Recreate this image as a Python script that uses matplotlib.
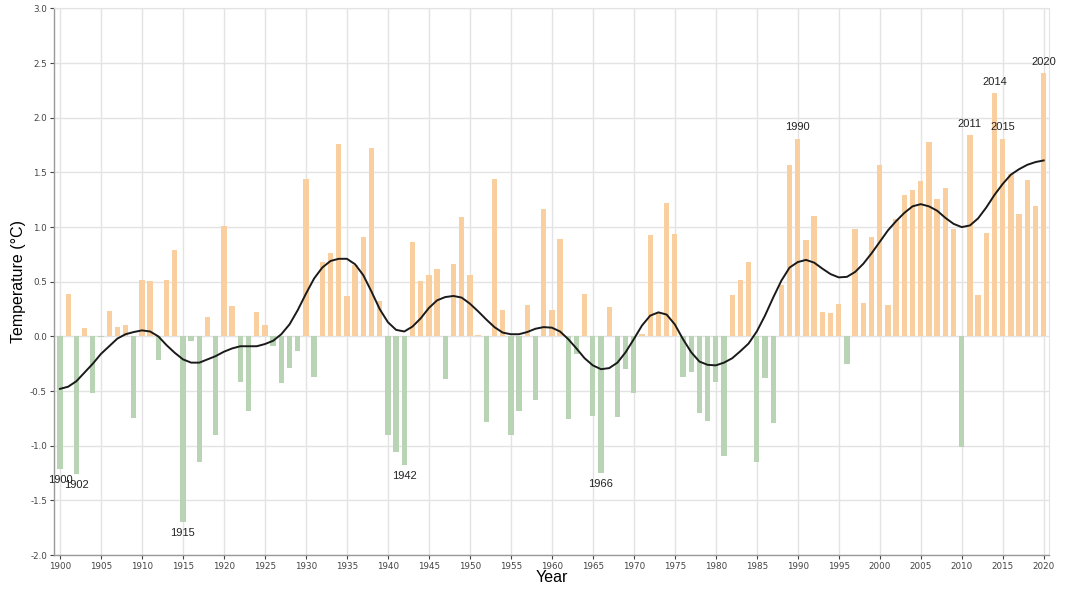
import matplotlib
matplotlib.use("Agg")
import matplotlib.pyplot as plt
import numpy as np

years = list(range(1900, 2021))
anomaly = [
    -1.21, 0.39, -1.26, 0.08, -0.52, -0.01, 0.23, 0.09, 0.10, -0.75,   # 1900-1909
    0.52, 0.51, -0.22, 0.52, 0.79, -1.70, -0.04, -1.15, 0.18, -0.90,   # 1910-1919
    1.01, 0.28, -0.42, -0.68, 0.22, 0.10, -0.09, -0.43, -0.29, -0.13,  # 1920-1929
    1.44, -0.37, 0.68, 0.76, 1.76, 0.37, 0.65, 0.91, 1.72, 0.32,       # 1930-1939
    -0.90, -1.06, -1.18, 0.86, 0.51, 0.56, 0.62, -0.39, 0.66, 1.09,    # 1940-1949
    0.56, 0.01, -0.78, 1.44, 0.24, -0.90, -0.68, 0.29, -0.58, 1.17,    # 1950-1959
    0.24, 0.89, -0.76, -0.16, 0.39, -0.73, -1.25, 0.27, -0.74, -0.30,  # 1960-1969
    -0.52, 0.02, 0.93, 0.22, 1.22, 0.94, -0.37, -0.33, -0.70, -0.77,   # 1970-1979
    -0.42, -1.09, 0.38, 0.52, 0.68, -1.15, -0.38, -0.79, 0.47, 1.57,   # 1980-1989
    1.81, 0.88, 1.10, 0.22, 0.21, 0.30, -0.25, 0.98, 0.31, 0.91,       # 1990-1999
    1.57, 0.29, 1.07, 1.29, 1.34, 1.42, 1.78, 1.26, 1.36, 0.98,        # 2000-2009
    -1.01, 1.84, 0.38, 0.95, 2.23, 1.81, 1.49, 1.12, 1.43, 1.19,       # 2010-2019
    2.41,                                                              # 2020
]
smooth = [
    -0.48, -0.46, -0.41, -0.33, -0.25, -0.16, -0.09, -0.02, 0.02, 0.04,
    0.055, 0.045, 0.00, -0.08, -0.15, -0.21, -0.24, -0.24, -0.21, -0.18,
    -0.14, -0.11, -0.09, -0.09, -0.09, -0.07, -0.04, 0.02, 0.11, 0.24,
    0.39, 0.53, 0.63, 0.69, 0.71, 0.71, 0.66, 0.56, 0.41, 0.25,
    0.13, 0.06, 0.045, 0.09, 0.165, 0.26, 0.33, 0.36, 0.37, 0.355,
    0.30, 0.23, 0.155, 0.085, 0.035, 0.02, 0.02, 0.04, 0.07, 0.085,
    0.08, 0.045, -0.025, -0.11, -0.20, -0.265, -0.30, -0.29, -0.24, -0.145,
    -0.025, 0.10, 0.19, 0.22, 0.20, 0.11, -0.025, -0.145, -0.23, -0.26,
    -0.265, -0.24, -0.20, -0.135, -0.065, 0.045, 0.19, 0.355, 0.51, 0.63,
    0.68, 0.70, 0.675, 0.62, 0.57, 0.54, 0.545, 0.59, 0.665, 0.76,
    0.865, 0.97, 1.055, 1.13, 1.19, 1.21, 1.19, 1.15, 1.085, 1.03,
    1.00, 1.015, 1.08, 1.18, 1.295, 1.395, 1.48, 1.53, 1.57, 1.595,
    1.61,
]
low_labels = [1900, 1902, 1915, 1942, 1966]
high_labels = [1990, 2011, 2014, 2015, 2020]
y_ticks = [-2.0, -1.5, -1.0, -0.5, 0.0, 0.5, 1.0, 1.5, 2.0, 2.5, 3.0]
x_ticks = list(range(1900, 2021, 5))

warm = "#f9cfa0"
cool = "#b8d4b5"

fig = plt.figure(figsize=(10.65, 5.9), dpi=100)
ax = fig.add_axes([0.0507, 0.0593, 0.9343, 0.9263])

colors = [warm if v >= 0 else cool for v in anomaly]
ax.bar(years, anomaly, width=0.65, color=colors, zorder=2, linewidth=0)
ax.plot(years, smooth, color="#1a1a1a", linewidth=1.4, zorder=3)

vals = dict(zip(years, anomaly))
for yr in low_labels:
    ax.annotate(str(yr), (yr, vals[yr]), xytext=(0, -8), textcoords="offset points",
                ha="center", va="center", fontsize=8, color="#222222",
                family="Liberation Sans", zorder=4)
for yr in high_labels:
    ax.annotate(str(yr), (yr, vals[yr]), xytext=(0, 8), textcoords="offset points",
                ha="center", va="center", fontsize=8, color="#222222",
                family="Liberation Sans", zorder=4)

ax.set_xlim(1899.27, 2020.65)
ax.set_ylim(-2.0, 3.0)
ax.set_xticks(x_ticks)
ax.set_yticks(y_ticks)
ax.set_yticklabels([f"{t:.1f}" for t in y_ticks])
ax.tick_params(axis="both", labelsize=6.3, colors="#444444", length=3, width=0.8,
               pad=2)
for lab in ax.get_xticklabels() + ax.get_yticklabels():
    lab.set_family("DejaVu Sans")
ax.grid(True, color="#e3e3e3", linewidth=1.0, zorder=0)
ax.set_axisbelow(True)
for s in ["top", "right"]:
    ax.spines[s].set_color("#e3e3e3")
for s in ["left", "bottom"]:
    ax.spines[s].set_color("#999999")
    ax.spines[s].set_linewidth(1.0)

ax.set_xlabel("Year", fontsize=11.5, family="Liberation Sans", labelpad=-1)
ax.set_ylabel("Temperature (°C)", fontsize=11.5, family="Liberation Sans", labelpad=3)

fig.savefig("out.png", dpi=100)
